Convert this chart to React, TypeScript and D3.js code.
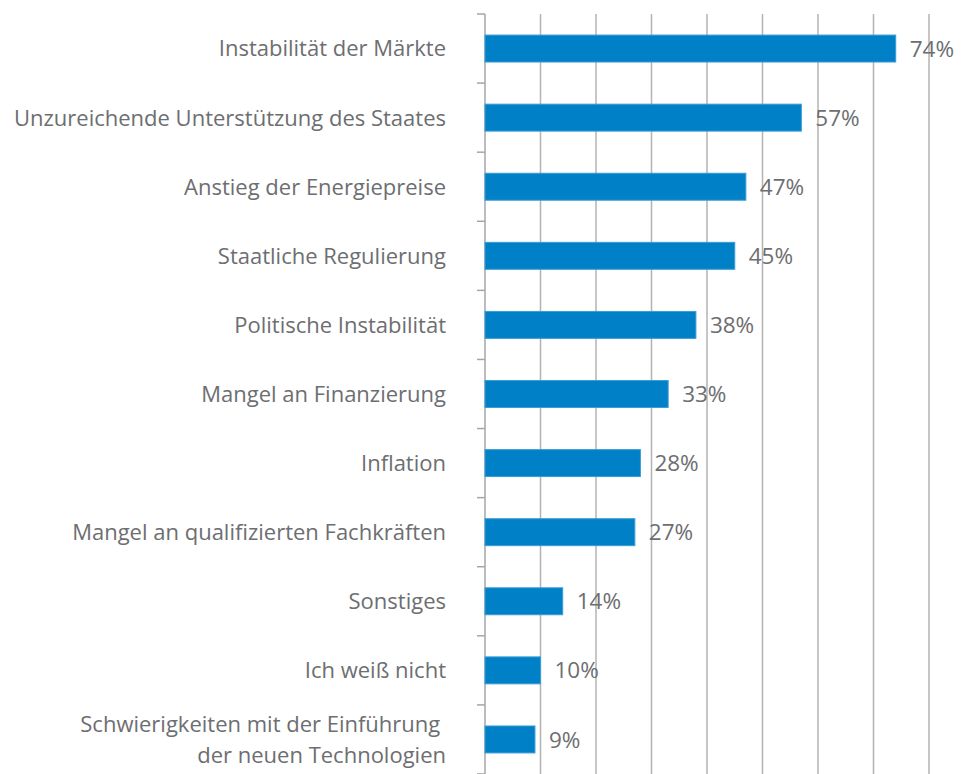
import React, { useRef, useEffect } from 'react';
import * as d3 from 'd3';

const categories = [
  'Instabilität der Märkte',
  'Unzureichende Unterstützung des Staates',
  'Anstieg der Energiepreise',
  'Staatliche Regulierung',
  'Politische Instabilität',
  'Mangel an Finanzierung',
  'Inflation',
  'Mangel an qualifizierten Fachkräften',
  'Sonstiges',
  'Ich weiß nicht',
  'Schwierigkeiten mit der Einführung \nder neuen Technologien',
];
const values = [74, 57, 47, 45, 38, 33, 28, 27, 14, 10, 9];
const gridTicks = [10, 20, 30, 40, 50, 60, 70, 80];

export default function App() {
  const svgRef = useRef<SVGSVGElement>(null);
  const width = 965;
  const height = 774;

  useEffect(() => {
    if (!svgRef.current) return;
    const svg = d3.select(svgRef.current);
    svg.selectAll('*').remove();

    const left = 485;
    const top = 14;
    const x = d3.scaleLinear().domain([0, 80]).range([left, 929]);
    const y = d3.scaleBand<number>()
      .domain(d3.range(categories.length))
      .range([top, 774])
      .paddingInner(0.61)
      .paddingOuter(0.305);
    const step = y.step();
    const font = '"Open Sans", sans-serif';
    const grey = '#6d6e71';

    // vertical gridlines
    svg.append('g').selectAll('line')
      .data(gridTicks)
      .enter()
      .append('line')
      .attr('x1', d => x(d))
      .attr('x2', d => x(d))
      .attr('y1', top)
      .attr('y2', height)
      .attr('stroke', '#b3b3b3')
      .attr('stroke-width', 1.5);

    // category axis
    svg.append('line')
      .attr('x1', left).attr('x2', left)
      .attr('y1', top).attr('y2', height)
      .attr('stroke', '#a6a6a6').attr('stroke-width', 1.5);
    svg.append('g').selectAll('line')
      .data(d3.range(categories.length + 1))
      .enter()
      .append('line')
      .attr('x1', left - 8).attr('x2', left)
      .attr('y1', i => top + i * step)
      .attr('y2', i => top + i * step)
      .attr('stroke', '#a6a6a6').attr('stroke-width', 1.5);

    // bars
    svg.append('g').selectAll('rect')
      .data(values)
      .enter()
      .append('rect')
      .attr('x', x(0))
      .attr('y', (_, i) => y(i) as number)
      .attr('width', d => x(d) - x(0))
      .attr('height', y.bandwidth())
      .attr('fill', '#0080c6')
      .attr('stroke', '#3a9bd6')
      .attr('stroke-width', 1);

    // value labels
    svg.append('g').selectAll('text')
      .data(values)
      .enter()
      .append('text')
      .attr('x', d => x(d) + 14)
      .attr('y', (_, i) => (y(i) as number) + y.bandwidth() / 2)
      .attr('dy', '0.36em')
      .attr('font-family', font)
      .attr('font-size', 22.5)
      .attr('fill', grey)
      .text(d => `${d}%`);

    // category labels
    const labels = svg.append('g').selectAll('text')
      .data(categories)
      .enter()
      .append('text')
      .attr('x', 446)
      .attr('y', (_, i) => (y(i) as number) + y.bandwidth() / 2)
      .attr('text-anchor', 'end')
      .attr('font-family', font)
      .attr('font-size', 22)
      .attr('fill', grey)
      .attr('xml:space', 'preserve')
      .style('white-space', 'pre');
    labels.each(function (d) {
      const lines = d.split('\n');
      const t = d3.select(this);
      lines.forEach((ln, k) => {
        t.append('tspan')
          .attr('x', 446)
          .attr('dy', k === 0 ? `${0.36 - (lines.length - 1) * 0.7}em` : '1.4em')
          .text(ln);
      });
    });
  }, []);

  return (
    <svg ref={svgRef} width={width} height={height} style={{ position: 'absolute', left: 0, top: 0 }} />
  );
}
